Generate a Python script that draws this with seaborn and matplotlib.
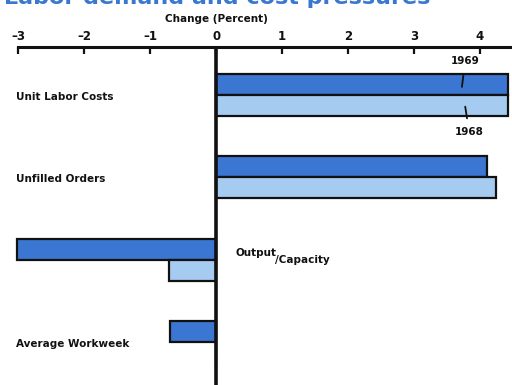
import matplotlib
matplotlib.use("Agg")
import matplotlib.pyplot as plt
import seaborn as sns
import pandas as pd

# Data: percent change by indicator and year
categories = ["Unit Labor Costs", "Unfilled Orders", "Output/Capacity", "Average Workweek"]
years = ["1969", "1968"]
change_1969 = [4.43, 4.11, -3.02, -0.70]
change_1968 = [4.43, 4.25, -0.71, 0.0]
tick_values = [-3, -2, -1, 0, 1, 2, 3, 4]

df = pd.DataFrame({
    "indicator": categories * 2,
    "year": [years[0]] * len(categories) + [years[1]] * len(categories),
    "change": change_1969 + change_1968,
})

sns.set_theme(style="white")
plt.rcParams["font.family"] = ["DejaVu Sans"]
plt.rcParams["font.weight"] = "bold"
ink = "#111111"
plt.rcParams["text.color"] = ink
plt.rcParams["xtick.color"] = ink
plt.rcParams["axes.labelcolor"] = ink

dark_blue = "#3b77d2"
light_blue = "#a6cbf0"

fig = plt.figure(figsize=(5.12, 3.85), dpi=100)
ax = fig.add_axes([0.0, 0.0, 1.0, 1 - 47 / 385])

sns.barplot(
    data=df, y="indicator", x="change", hue="year", order=categories,
    hue_order=years, palette=[dark_blue, light_blue], orient="h",
    width=0.51, saturation=1, edgecolor=ink, linewidth=1.6, ax=ax, legend=False,
)

ax.set_xlim(-3.28, 4.49)
ax.set_ylim(3.524, -0.585)

# axis on top, ticks pointing down into the plot
ax.xaxis.set_ticks_position("top")
ax.xaxis.set_label_position("top")
ax.set_xticks(tick_values)
ax.set_xticklabels([str(v).replace("-", "\u2013") for v in tick_values],
                   fontsize=8.5, fontweight="bold")
ax.tick_params(axis="x", direction="in", length=5, width=1.6, color=ink, pad=3)
ax.set_xlabel("Change (Percent)", fontsize=7.5, fontweight="bold", labelpad=6,
              x=216 / 512)
ax.set_ylabel("")
ax.set_yticks([])

for side in ["left", "right", "bottom"]:
    ax.spines[side].set_visible(False)
ax.spines["top"].set_bounds(-3, 4.49)
ax.spines["top"].set_linewidth(2.2)
ax.spines["top"].set_color(ink)

# zero line
ax.axvline(0, color=ink, linewidth=2.6, zorder=5)

# category labels
for i, name in enumerate(categories):
    if name == "Output/Capacity":
        t = ax.text(0.30, i - 0.08, "Output", fontsize=7.5, fontweight="bold",
                    ha="left", va="center")
        ax.annotate("/Capacity", xy=(0.96, 0.35), xycoords=t, fontsize=7.5,
                    fontweight="bold", ha="left", va="top")
    else:
        ax.text(-3.03, i + 0.02, name, fontsize=7.5, fontweight="bold",
                ha="left", va="center")

# year callouts on the first pair of bars
ax.annotate("1969", xy=(3.73, -0.1), xytext=(3.78, -0.42), fontsize=7.5,
            fontweight="bold", ha="center", va="center",
            arrowprops=dict(arrowstyle="-", color=ink, lw=1.3, shrinkA=4, shrinkB=0))
ax.annotate("1968", xy=(3.78, 0.14), xytext=(3.84, 0.45), fontsize=7.5,
            fontweight="bold", ha="center", va="center",
            arrowprops=dict(arrowstyle="-", color=ink, lw=1.3, shrinkA=4, shrinkB=0))

# heading running off the top edge
fig.text(430 / 512, 1 - 3.5 / 385, "Labor demand and cost pressures", fontsize=16,
         fontweight="bold", color="#3a78d0", ha="right", va="baseline")

fig.savefig("out.png", dpi=100)
